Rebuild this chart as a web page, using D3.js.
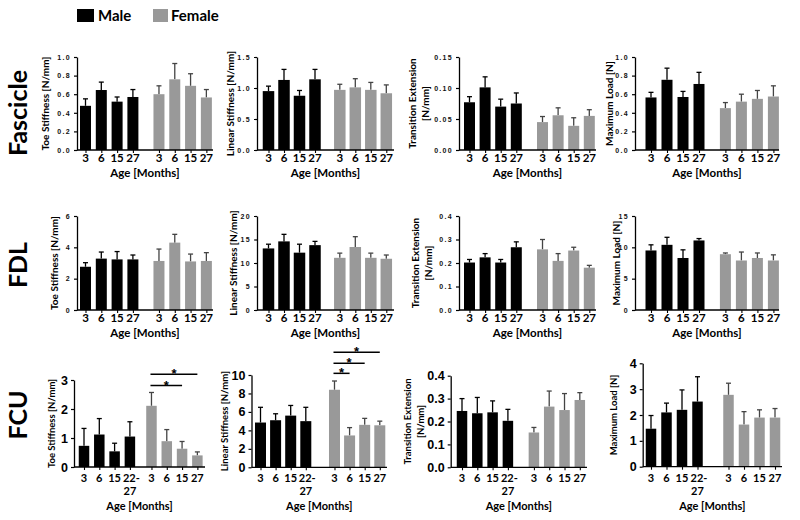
<!DOCTYPE html>
<html><head><meta charset="utf-8">
<script src="https://cdn.jsdelivr.net/npm/d3@7"></script>
<style>
body{margin:0;background:#fff;}
svg{display:block;}
</style></head>
<body>
<svg id="chart" width="800" height="520"></svg>
<script>
// ---------- DATA ----------
const groups = ["Male", "Female"];
const ages = ["3", "6", "15", "27"];
const agesFCUMale = ["3", "6", "15", "22-27"];
const agesFCUFemale = ["3", "6", "15", "27"];
const rowNames = ["Fascicle", "FDL", "FCU"];

// Fascicle
const fascToeMale = [0.475, 0.645, 0.52, 0.57];
const fascToeMaleErr = [0.075, 0.085, 0.05, 0.08];
const fascToeFemale = [0.60, 0.76, 0.69, 0.565];
const fascToeFemaleErr = [0.09, 0.17, 0.13, 0.085];

const fascLinMale = [0.95, 1.13, 0.875, 1.14];
const fascLinMaleErr = [0.08, 0.17, 0.085, 0.16];
const fascLinFemale = [0.97, 1.01, 0.97, 0.915];
const fascLinFemaleErr = [0.09, 0.14, 0.12, 0.135];

const fascTransMale = [0.077, 0.101, 0.070, 0.075];
const fascTransMaleErr = [0.009, 0.017, 0.012, 0.017];
const fascTransFemale = [0.045, 0.056, 0.039, 0.055];
const fascTransFemaleErr = [0.009, 0.012, 0.013, 0.010];

const fascMaxMale = [0.565, 0.755, 0.57, 0.71];
const fascMaxMaleErr = [0.055, 0.125, 0.06, 0.125];
const fascMaxFemale = [0.45, 0.52, 0.55, 0.575];
const fascMaxFemaleErr = [0.06, 0.08, 0.09, 0.115];

// FDL
const fdlToeMale = [2.76, 3.28, 3.23, 3.23];
const fdlToeMaleErr = [0.26, 0.42, 0.5, 0.28];
const fdlToeFemale = [3.13, 4.30, 3.10, 3.13];
const fdlToeFemaleErr = [0.76, 0.53, 0.47, 0.53];

const fdlLinMale = [13.1, 14.6, 12.2, 13.8];
const fdlLinMaleErr = [0.9, 1.5, 1.8, 0.8];
const fdlLinFemale = [11.1, 13.4, 11.1, 10.9];
const fdlLinFemaleErr = [1.0, 2.2, 1.0, 0.8];

const fdlTransMale = [0.202, 0.224, 0.202, 0.267];
const fdlTransMaleErr = [0.013, 0.016, 0.013, 0.023];
const fdlTransFemale = [0.258, 0.209, 0.253, 0.18];
const fdlTransFemaleErr = [0.042, 0.031, 0.014, 0.01];

const fdlMaxMale = [9.5, 10.4, 8.3, 11.1];
const fdlMaxMaleErr = [0.9, 1.2, 1.3, 0.3];
const fdlMaxFemale = [8.9, 7.9, 8.3, 7.9];
const fdlMaxFemaleErr = [0.2, 1.35, 0.8, 0.9];

// FCU
const fcuToeMale = [0.73, 1.12, 0.54, 1.05];
const fcuToeMaleErr = [0.6, 0.55, 0.28, 0.51];
const fcuToeFemale = [2.11, 0.89, 0.63, 0.40];
const fcuToeFemaleErr = [0.46, 0.40, 0.25, 0.12];

const fcuLinMale = [4.85, 5.1, 5.6, 5.0];
const fcuLinMaleErr = [1.65, 0.7, 1.1, 1.5];
const fcuLinFemale = [8.4, 3.45, 4.6, 4.55];
const fcuLinFemaleErr = [0.95, 0.85, 0.7, 0.45];

const fcuTransMale = [0.246, 0.236, 0.24, 0.203];
const fcuTransMaleErr = [0.054, 0.069, 0.05, 0.05];
const fcuTransFemale = [0.152, 0.265, 0.25, 0.294];
const fcuTransFemaleErr = [0.022, 0.068, 0.072, 0.032];

const fcuMaxMale = [1.47, 2.1, 2.2, 2.52];
const fcuMaxMaleErr = [0.51, 0.36, 0.77, 0.96];
const fcuMaxFemale = [2.78, 1.63, 1.9, 1.9];
const fcuMaxFemaleErr = [0.45, 0.5, 0.3, 0.35];

// significance brackets (female group indices, bracket level in data units)
const fcuToeSigPairs = [[0, 2], [0, 3]];
const fcuToeSigLevels = [2.81, 3.2];
const fcuLinSigPairs = [[0, 1], [0, 2], [0, 3]];
const fcuLinSigLevels = [10.18, 11.27, 12.46];

// tick values
const ticksFascToe = [0, 0.2, 0.4, 0.6, 0.8, 1.0];
const ticksFascLin = [0, 0.5, 1.0, 1.5];
const ticksFascTrans = [0, 0.05, 0.10, 0.15];
const ticksFascMax = [0, 0.2, 0.4, 0.6, 0.8, 1.0];
const ticksFdlToe = [0, 2, 4, 6];
const ticksFdlLin = [0, 5, 10, 15, 20];
const ticksFdlTrans = [0, 0.1, 0.2, 0.3, 0.4];
const ticksFdlMax = [0, 5, 10, 15];
const ticksFcuToe = [0, 1, 2, 3];
const ticksFcuLin = [0, 2, 4, 6, 8, 10];
const ticksFcuTrans = [0, 0.1, 0.2, 0.3, 0.4];
const ticksFcuMax = [0, 1, 2, 3, 4];

// ---------- LAYOUT ----------
const colors = {Male: "#000000", Female: "#999999"};
const FONT = "Lato, 'Open Sans', sans-serif";
const ARIAL = "'Liberation Sans', Arial, sans-serif";

const svg = d3.select("#chart");

const colsTop = [
  {axisX: 77, end: 213, m0: 85.5, step: 15.8, fOff: 4.65, bw: 11},
  {axisX: 257, end: 394, m0: 268.5, step: 15.5, fOff: 4.6, bw: 11.5},
  {axisX: 459, end: 596, m0: 469.5, step: 15.6, fOff: 4.68, bw: 11},
  {axisX: 635, end: 779, m0: 651, step: 16, fOff: 4.65, bw: 11}
];
const colsFCU = [
  {axisX: 74, end: 205, m0: 84, step: 15.3, fOff: 4.41, bw: 10.5},
  {axisX: 251.5, end: 387, m0: 260.5, step: 15.1, fOff: 4.9, bw: 11},
  {axisX: 450.7, end: 587, m0: 462, step: 15.3, fOff: 4.7, bw: 10.5},
  {axisX: 642.7, end: 782, m0: 651, step: 15.5, fOff: 5.0, bw: 10.5}
];

const top1 = {y0: 150, yTop: 57, tickY: 162, ageY: 176.5, style: "small"};
const top2 = {y0: 310, yTop: 216, tickY: 322, ageY: 336.5, style: "small"};
const fcuRow = {tickY: 481.5, ageY: 509.5, style: "large"};

const panels = [
  // Fascicle
  {...top1, col: colsTop[0], yMax: 1.0, ticks: ticksFascToe, fmt: ".1f", labelX: [45], label: ["Toe Stiffness [N/mm]"],
   m: fascToeMale, me: fascToeMaleErr, f: fascToeFemale, fe: fascToeFemaleErr, mAges: ages, fAges: ages},
  {...top1, col: colsTop[1], yMax: 1.5, ticks: ticksFascLin, fmt: ".1f", labelX: [230], label: ["Linear Stiffness [N/mm]"],
   m: fascLinMale, me: fascLinMaleErr, f: fascLinFemale, fe: fascLinFemaleErr, mAges: ages, fAges: ages},
  {...top1, col: colsTop[2], yMax: 0.15, ticks: ticksFascTrans, fmt: ".2f", labelX: [412, 425], label: ["Transition Extension", "[N/mm]"],
   m: fascTransMale, me: fascTransMaleErr, f: fascTransFemale, fe: fascTransFemaleErr, mAges: ages, fAges: ages},
  {...top1, col: colsTop[3], yMax: 1.0, ticks: ticksFascMax, fmt: ".1f", labelX: [609], label: ["Maximum Load [N]"],
   m: fascMaxMale, me: fascMaxMaleErr, f: fascMaxFemale, fe: fascMaxFemaleErr, mAges: ages, fAges: ages},
  // FDL
  {...top2, col: colsTop[0], yMax: 6, ticks: ticksFdlToe, fmt: "d", labelX: [54], label: ["Toe Stiffness [N/mm]"],
   m: fdlToeMale, me: fdlToeMaleErr, f: fdlToeFemale, fe: fdlToeFemaleErr, mAges: ages, fAges: ages},
  {...top2, col: colsTop[1], yMax: 20, ticks: ticksFdlLin, fmt: "d", labelX: [233], label: ["Linear Stiffness [N/mm]"],
   m: fdlLinMale, me: fdlLinMaleErr, f: fdlLinFemale, fe: fdlLinFemaleErr, mAges: ages, fAges: ages},
  {...top2, col: colsTop[2], yMax: 0.4, ticks: ticksFdlTrans, fmt: ".1f", labelX: [415, 428], label: ["Transition Extension", "[N/mm]"],
   m: fdlTransMale, me: fdlTransMaleErr, f: fdlTransFemale, fe: fdlTransFemaleErr, mAges: ages, fAges: ages},
  {...top2, col: colsTop[3], yMax: 15, ticks: ticksFdlMax, fmt: "d", labelX: [616], label: ["Maximum Load [N]"],
   m: fdlMaxMale, me: fdlMaxMaleErr, f: fdlMaxFemale, fe: fdlMaxFemaleErr, mAges: ages, fAges: ages},
  // FCU
  {...fcuRow, col: colsFCU[0], y0: 467, yTop: 380, yMax: 3, ticks: ticksFcuToe, fmt: "d", labelX: [51], label: ["Toe Stiffness [N/mm]"],
   m: fcuToeMale, me: fcuToeMaleErr, f: fcuToeFemale, fe: fcuToeFemaleErr, mAges: agesFCUMale, fAges: agesFCUFemale,
   sigPairs: fcuToeSigPairs, sigLevels: fcuToeSigLevels},
  {...fcuRow, col: colsFCU[1], y0: 467.3, yTop: 375, yMax: 10, ticks: ticksFcuLin, fmt: "d", labelX: [224], label: ["Linear Stiffness [N/mm]"],
   m: fcuLinMale, me: fcuLinMaleErr, f: fcuLinFemale, fe: fcuLinFemaleErr, mAges: agesFCUMale, fAges: agesFCUFemale,
   sigPairs: fcuLinSigPairs, sigLevels: fcuLinSigLevels},
  {...fcuRow, col: colsFCU[2], y0: 467.3, yTop: 375.7, yMax: 0.4, ticks: ticksFcuTrans, fmt: ".1f", labelX: [407, 420], label: ["Transition Extension", "[N/mm]"],
   m: fcuTransMale, me: fcuTransMaleErr, f: fcuTransFemale, fe: fcuTransFemaleErr, mAges: agesFCUMale, fAges: agesFCUFemale},
  {...fcuRow, col: colsFCU[3], y0: 466.7, yTop: 363.3, yMax: 4, ticks: ticksFcuMax, fmt: "d", labelX: [613], label: ["Maximum Load [N]"],
   m: fcuMaxMale, me: fcuMaxMaleErr, f: fcuMaxFemale, fe: fcuMaxFemaleErr, mAges: agesFCUMale, fAges: agesFCUFemale}
];

// ---------- LEGEND ----------
const legend = svg.append("g");
const legendX = d3.scaleOrdinal().domain(groups).range([77, 153]);
groups.forEach(g => {
  legend.append("rect").attr("x", legendX(g)).attr("y", 9).attr("width", g === "Male" ? 17 : 15).attr("height", 13)
    .attr("fill", colors[g]);
  legend.append("text").attr("x", legendX(g) + (g === "Male" ? 21 : 18)).attr("y", 21)
    .attr("font-family", FONT).attr("font-weight", 700).attr("font-size", 15).text(g);
});

// ---------- ROW LABELS ----------
const rowY = d3.scaleOrdinal().domain(rowNames).range([113, 265, 415]);
rowNames.forEach(r => {
  svg.append("text").attr("transform", `translate(27,${rowY(r)}) rotate(-90)`)
    .attr("text-anchor", "middle").attr("font-family", FONT).attr("font-weight", 700)
    .attr("font-size", 25).text(r);
});

// ---------- PANELS ----------
panels.forEach(p => {
  const c = p.col;
  const g = svg.append("g");
  const y = d3.scaleLinear().domain([0, p.yMax]).range([p.y0, p.yTop]);
  const x = d3.scaleLinear().domain([0, 1]).range([c.m0, c.m0 + c.step]);
  const slot = (grp, j) => grp === "Male" ? j : c.fOff + j;

  const bars = [];
  p.mAges.forEach((a, j) => bars.push({grp: "Male", j, age: a, v: p.m[j], e: p.me[j]}));
  p.fAges.forEach((a, j) => bars.push({grp: "Female", j, age: a, v: p.f[j], e: p.fe[j]}));

  // error bars
  g.selectAll("line.err").data(bars).join("line").attr("class", "err")
    .attr("x1", d => x(slot(d.grp, d.j))).attr("x2", d => x(slot(d.grp, d.j)))
    .attr("y1", d => y(d.v)).attr("y2", d => y(d.v + d.e))
    .attr("stroke", d => d.grp === "Male" ? "#000" : "#444").attr("stroke-width", 1.3);
  g.selectAll("line.cap").data(bars).join("line").attr("class", "cap")
    .attr("x1", d => x(slot(d.grp, d.j)) - 2.5).attr("x2", d => x(slot(d.grp, d.j)) + 2.5)
    .attr("y1", d => y(d.v + d.e)).attr("y2", d => y(d.v + d.e))
    .attr("stroke", d => d.grp === "Male" ? "#000" : "#444").attr("stroke-width", 1.3);

  g.selectAll("rect.bar").data(bars).join("rect").attr("class", "bar")
    .attr("x", d => x(slot(d.grp, d.j)) - c.bw / 2)
    .attr("width", c.bw)
    .attr("y", d => y(d.v))
    .attr("height", d => y(0) - y(d.v))
    .attr("fill", d => colors[d.grp]);

  // y axis
  const yAxis = d3.axisLeft(y).tickValues(p.ticks).tickFormat(d3.format(p.fmt)).tickSize(3).tickSizeOuter(0).tickPadding(3);
  const ya = g.append("g").attr("transform", `translate(${c.axisX},0)`).call(yAxis);
  ya.select(".domain").attr("stroke", "#000").attr("stroke-width", 1.3);
  ya.selectAll(".tick line").attr("stroke", "#000").attr("stroke-width", 1.2);
  if (p.style === "small") {
    ya.selectAll(".tick text").attr("font-family", ARIAL).attr("font-weight", 700)
      .attr("font-size", 7).attr("letter-spacing", "1.3px").attr("fill", "#111");
  } else {
    ya.selectAll(".tick text").attr("font-family", ARIAL).attr("font-weight", 700)
      .attr("font-size", 12.5).attr("fill", "#000");
  }

  // x axis (ticks at bar centres)
  const xTicks = bars.map(d => slot(d.grp, d.j));
  const xAxis = d3.axisBottom(x).tickValues(xTicks).tickFormat(() => "").tickSize(3).tickSizeOuter(0);
  const xa = g.append("g").attr("transform", `translate(0,${p.y0})`).call(xAxis);
  xa.select(".domain").remove();
  xa.selectAll(".tick line").attr("stroke", "#000").attr("stroke-width", 1.1);
  g.append("line").attr("x1", c.axisX).attr("x2", c.end).attr("y1", p.y0).attr("y2", p.y0)
    .attr("stroke", "#000").attr("stroke-width", 1.3);

  // x tick labels
  const fs = p.style === "small" ? 11.5 : 11;
  g.selectAll("text.xl").data(bars).join("text").attr("class", "xl")
    .attr("x", d => x(slot(d.grp, d.j)))
    .attr("y", p.tickY)
    .attr("text-anchor", "middle")
    .attr("font-family", FONT).attr("font-weight", 700).attr("font-size", fs)
    .each(function (d) {
      const parts = d.age.includes("-") ? [d.age.split("-")[0] + "-", d.age.split("-")[1]] : [d.age];
      const t = d3.select(this);
      parts.forEach((s, i) => {
        t.append("tspan").attr("x", x(slot(d.grp, d.j)) + (i === 0 && parts.length > 1 ? 1.5 : 0))
          .attr("dy", i === 0 ? 0 : 13.4).text(s);
      });
    });

  g.append("text").attr("x", (c.axisX + c.end) / 2).attr("y", p.ageY)
    .attr("text-anchor", "middle").attr("font-family", FONT).attr("font-weight", 700)
    .attr("font-size", p.style === "small" ? 11.5 : 11).text("Age [Months]");

  // y label
  const ymid = (p.y0 + p.yTop) / 2;
  p.label.forEach((l, i) => {
    g.append("text").attr("transform", `translate(${p.labelX[i]},${ymid}) rotate(-90)`)
      .attr("text-anchor", "middle").attr("dominant-baseline", "central")
      .attr("font-family", FONT).attr("font-weight", 700)
      .attr("font-size", p.style === "small" ? 10 : 9.5).text(l);
  });

  // significance
  if (p.sigPairs) {
    p.sigPairs.forEach((pr, i) => {
      const xa1 = x(slot("Female", pr[0])) - 1;
      const xa2 = x(slot("Female", pr[1]));
      const ly = y(p.sigLevels[i]);
      g.append("line").attr("x1", xa1).attr("x2", xa2).attr("y1", ly).attr("y2", ly)
        .attr("stroke", "#000").attr("stroke-width", 1.5);
      g.append("text").attr("x", (xa1 + xa2) / 2).attr("y", ly + 4)
        .attr("text-anchor", "middle").attr("font-family", ARIAL).attr("font-weight", 700)
        .attr("font-size", 13).text("*");
    });
  }
});
</script>
</body></html>
